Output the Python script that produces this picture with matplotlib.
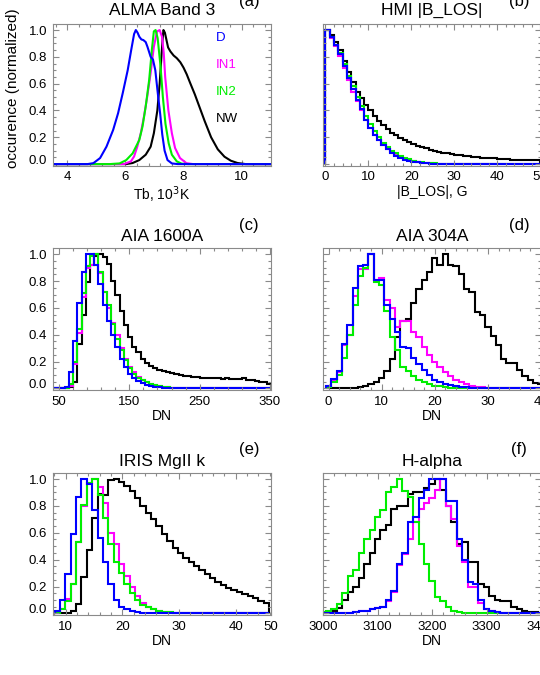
import numpy as np
import matplotlib
matplotlib.use('Agg')
import matplotlib.pyplot as plt
from matplotlib.ticker import AutoMinorLocator

plt.rcParams['font.family'] = ['Liberation Sans', 'DejaVu Sans']

names = ['D', 'IN1', 'IN2', 'NW']
colors = {'D': '#0000ff', 'IN1': '#ff00ff', 'IN2': '#00ee00', 'NW': '#000000'}
draw_order = ['NW', 'IN1', 'IN2', 'D']

# (a) ALMA Band 3, fine-binned curves: x in 10^3 K
alma_x = {
    'D': [3.5, 4.7, 4.9, 5.13, 5.35, 5.58, 5.75, 5.91, 6.08, 6.2, 6.3, 6.36, 6.42, 6.48, 6.55,
          6.62, 6.7, 6.76, 6.87, 6.95, 7.03, 7.13, 7.2, 7.27, 7.35, 7.45, 7.6, 7.8, 11.0],
    'IN1': [3.5, 5.95, 6.19, 6.3, 6.41, 6.53, 6.64, 6.75, 6.87, 6.98, 7.09, 7.18, 7.26, 7.32,
            7.37, 7.48, 7.6, 7.71, 7.88, 8.1, 8.33, 11.0],
    'IN2': [3.5, 5.46, 5.8, 6.03, 6.25, 6.48, 6.59, 6.7, 6.82, 6.91, 6.98, 7.04, 7.11, 7.21,
            7.29, 7.38, 7.49, 7.6, 7.77, 7.94, 8.17, 11.0],
    'NW': [3.5, 6.03, 6.25, 6.48, 6.7, 6.87, 6.98, 7.1, 7.18, 7.24, 7.28, 7.31, 7.36, 7.42, 7.47,
           7.55, 7.66, 7.77, 7.89, 8.0, 8.11, 8.22, 8.39, 8.56, 8.73, 8.95, 9.18, 9.41, 9.63,
           9.86, 10.14, 11.0],
}
alma_y = {
    'D': [0, 0, 0.007, 0.045, 0.13, 0.255, 0.38, 0.53, 0.70, 0.85, 0.97, 1.0, 0.98, 0.95, 0.93,
          0.925, 0.91, 0.875, 0.80, 0.78, 0.70, 0.50, 0.37, 0.22, 0.10, 0.03, 0.005, 0, 0],
    'IN1': [0, 0, 0.02, 0.057, 0.13, 0.23, 0.355, 0.5, 0.68, 0.875, 0.99, 1.0, 0.95, 0.83,
            0.65, 0.40, 0.23, 0.12, 0.045, 0.007, 0, 0],
    'IN2': [0, 0, 0.005, 0.03, 0.08, 0.18, 0.28, 0.43, 0.63, 0.85, 0.99, 1.0, 0.94, 0.73,
            0.5, 0.3, 0.155, 0.07, 0.02, 0.003, 0, 0],
    'NW': [0, 0, 0.008, 0.03, 0.07, 0.13, 0.23, 0.40, 0.6, 0.8, 0.93, 1.0, 0.98, 0.92, 0.87,
           0.84, 0.81, 0.79, 0.76, 0.72, 0.67, 0.61, 0.52, 0.42, 0.32, 0.2, 0.11, 0.055, 0.025,
           0.008, 0, 0],
}

# (b) HMI |B_LOS|, 1 G bins from 0 to 50
hmi_edges = np.arange(0, 51, 1)
hmi = {
    'NW': [1.0, 0.96, 0.91, 0.85, 0.77, 0.69, 0.61, 0.54, 0.49, 0.44,
           0.40, 0.36, 0.32, 0.29, 0.26, 0.235, 0.215, 0.195, 0.18, 0.165,
           0.15, 0.138, 0.127, 0.117, 0.108, 0.10, 0.093, 0.086, 0.08, 0.075,
           0.07, 0.066, 0.062, 0.058, 0.055, 0.052, 0.049, 0.046, 0.044, 0.042,
           0.04, 0.038, 0.036, 0.034, 0.032, 0.031, 0.03, 0.029, 0.028, 0.027],
    'D': [1.0, 0.95, 0.89, 0.82, 0.73, 0.64, 0.56, 0.48, 0.41, 0.33,
          0.27, 0.22, 0.18, 0.14, 0.11, 0.08, 0.06, 0.045, 0.033, 0.024,
          0.017, 0.012, 0.008, 0.005, 0.003, 0.002, 0.001, 0, 0, 0,
          0, 0, 0, 0, 0, 0, 0, 0, 0, 0,
          0, 0, 0, 0, 0, 0, 0, 0, 0, 0],
    'IN1': [1.0, 0.94, 0.88, 0.81, 0.72, 0.63, 0.54, 0.47, 0.40, 0.33,
            0.27, 0.22, 0.18, 0.145, 0.115, 0.09, 0.07, 0.05, 0.038, 0.028,
            0.02, 0.014, 0.01, 0.007, 0.005, 0.003, 0.002, 0.001, 0, 0,
            0, 0, 0, 0, 0, 0, 0, 0, 0, 0,
            0, 0, 0, 0, 0, 0, 0, 0, 0, 0],
    'IN2': [1.0, 0.95, 0.89, 0.83, 0.75, 0.66, 0.58, 0.50, 0.43, 0.36,
            0.30, 0.25, 0.20, 0.16, 0.13, 0.10, 0.08, 0.06, 0.045, 0.035,
            0.026, 0.019, 0.014, 0.01, 0.007, 0.005, 0.003, 0.002, 0.001, 0,
            0, 0, 0, 0, 0, 0, 0, 0, 0, 0,
            0, 0, 0, 0, 0, 0, 0, 0, 0, 0],
}

# (c) AIA 1600A, 6 DN bins from 40 to 352
a1600_edges = np.arange(40, 353, 6)
a1600 = {
    'NW': [0, 0, 0, 0, 0.01, 0.05, 0.33, 0.55, 0.79, 0.92,
           0.99, 1.0, 0.98, 0.93, 0.80, 0.70, 0.58, 0.47, 0.38, 0.31,
           0.27, 0.22, 0.19, 0.17, 0.15, 0.14, 0.13, 0.12, 0.115, 0.11,
           0.10, 0.095, 0.09, 0.085, 0.085, 0.08, 0.08, 0.075, 0.078, 0.075,
           0.072, 0.075, 0.07, 0.068, 0.07, 0.075, 0.065, 0.06, 0.055, 0.05,
           0.045, 0.03],
    'D': [0, 0, 0, 0.01, 0.12, 0.35, 0.64, 0.87, 1.0, 1.0,
          0.92, 0.78, 0.62, 0.50, 0.40, 0.31, 0.22, 0.16, 0.11, 0.08,
          0.055, 0.04, 0.028, 0.02, 0.013, 0.009, 0.006, 0.004, 0.002, 0.001,
          0, 0, 0, 0, 0, 0, 0, 0, 0, 0,
          0, 0, 0, 0, 0, 0, 0, 0, 0, 0,
          0, 0],
    'IN1': [0, 0, 0, 0, 0.02, 0.18, 0.41, 0.68, 0.90, 0.92,
            1.0, 0.86, 0.72, 0.60, 0.49, 0.40, 0.30, 0.22, 0.16, 0.12,
            0.085, 0.062, 0.046, 0.034, 0.025, 0.018, 0.012, 0.008, 0.005, 0.003,
            0.002, 0.001, 0, 0, 0, 0, 0, 0, 0, 0,
            0, 0, 0, 0, 0, 0, 0, 0, 0, 0,
            0, 0],
    'IN2': [0, 0, 0, 0, 0.03, 0.2, 0.44, 0.71, 0.91, 0.99,
            1.0, 0.87, 0.72, 0.62, 0.48, 0.37, 0.29, 0.21, 0.15, 0.11,
            0.08, 0.06, 0.045, 0.033, 0.024, 0.017, 0.012, 0.008, 0.005, 0.003,
            0.002, 0.001, 0, 0, 0, 0, 0, 0, 0, 0,
            0, 0, 0, 0, 0, 0, 0, 0, 0, 0,
            0, 0],
}

# (d) AIA 304A, 1 DN bins centred on 0..40
a304_edges = np.arange(-0.5, 41, 1)
a304 = {
    'NW': [0, 0, 0, 0.001, 0.002, 0.004, 0.008, 0.015, 0.03, 0.05,
           0.08, 0.13, 0.22, 0.38, 0.50, 0.52, 0.64, 0.74, 0.81, 0.87,
           0.97, 0.92, 1.0, 0.92, 0.91, 0.85, 0.74, 0.72, 0.57, 0.55,
           0.46, 0.39, 0.32, 0.22, 0.19, 0.19, 0.14, 0.09, 0.06, 0.04,
           0.03],
    'D': [0.02, 0.07, 0.13, 0.33, 0.47, 0.75, 0.91, 0.92, 1.0, 0.81,
          0.81, 0.62, 0.52, 0.42, 0.31, 0.30, 0.23, 0.18, 0.14, 0.10,
          0.06, 0.05, 0.035, 0.025, 0.017, 0.012, 0.008, 0.006, 0.004, 0.003,
          0.002, 0.001, 0.001, 0, 0, 0, 0, 0, 0, 0,
          0],
    'IN1': [0.02, 0.06, 0.12, 0.32, 0.40, 0.69, 0.89, 0.89, 1.0, 0.81,
            0.82, 0.66, 0.60, 0.46, 0.50, 0.50, 0.42, 0.38, 0.31, 0.25,
            0.20, 0.16, 0.12, 0.09, 0.065, 0.045, 0.03, 0.02, 0.012, 0.007,
            0.004, 0.002, 0.001, 0, 0, 0, 0, 0, 0, 0,
            0],
    'IN2': [0.01, 0.05, 0.10, 0.23, 0.40, 0.62, 0.84, 0.90, 1.0, 0.79,
            0.77, 0.58, 0.38, 0.29, 0.16, 0.13, 0.09, 0.06, 0.045, 0.03,
            0.02, 0.015, 0.01, 0.006, 0.004, 0.002, 0.001, 0, 0, 0,
            0, 0, 0, 0, 0, 0, 0, 0, 0, 0,
            0],
}

# (e) IRIS MgII k
iris_edges = 7.11 + 0.946 * np.arange(42)
iris = {
    'NW': [0, 0, 0, 0, 0.02, 0.07, 0.27, 0.47, 0.71, 0.89,
           0.88, 0.99, 1.0, 0.98, 0.95, 0.91, 0.86, 0.80, 0.75, 0.70,
           0.65, 0.59, 0.54, 0.49, 0.45, 0.41, 0.38, 0.35, 0.32, 0.29,
           0.26, 0.235, 0.21, 0.19, 0.175, 0.16, 0.145, 0.13, 0.115, 0.095,
           0.075],
    'D': [0, 0.02, 0.10, 0.29, 0.59, 0.87, 1.0, 0.96, 0.77, 0.56,
          0.38, 0.22, 0.10, 0.05, 0.03, 0.02, 0.01, 0.006, 0.004, 0.002,
          0.001, 0, 0, 0, 0, 0, 0, 0, 0, 0,
          0, 0, 0, 0, 0, 0, 0, 0, 0, 0,
          0],
    'IN1': [0, 0.005, 0.03, 0.11, 0.22, 0.53, 0.80, 0.97, 1.0, 0.94,
            0.82, 0.60, 0.52, 0.37, 0.28, 0.20, 0.13, 0.08, 0.05, 0.03,
            0.02, 0.012, 0.008, 0.005, 0.003, 0.002, 0.001, 0, 0, 0,
            0, 0, 0, 0, 0, 0, 0, 0, 0, 0,
            0],
    'IN2': [0, 0.005, 0.03, 0.09, 0.22, 0.53, 0.81, 0.97, 1.0, 0.88,
            0.71, 0.52, 0.38, 0.30, 0.22, 0.15, 0.10, 0.065, 0.045, 0.03,
            0.02, 0.012, 0.008, 0.005, 0.003, 0.002, 0.001, 0, 0, 0,
            0, 0, 0, 0, 0, 0, 0, 0, 0, 0,
            0],
}

# (f) H-alpha, 10 DN bins centred on 3000..3400
ha_edges = np.arange(2995, 3406, 10)
halpha = {
    'NW': [0.005, 0.01, 0.02, 0.04, 0.10, 0.16, 0.20, 0.26, 0.37, 0.45,
           0.55, 0.62, 0.66, 0.78, 0.80, 0.80, 0.89, 0.90, 0.90, 0.93,
           0.96, 1.0, 0.92, 0.80, 0.68, 0.52, 0.53, 0.38, 0.38, 0.22,
           0.20, 0.13, 0.10, 0.09, 0.09, 0.05, 0.03, 0.02, 0.012, 0.007,
           0.004],
    'D': [0, 0, 0, 0, 0, 0.005, 0.01, 0.015, 0.02, 0.03,
          0.04, 0.05, 0.10, 0.17, 0.37, 0.45, 0.68, 0.72, 0.86, 0.92,
          1.0, 1.0, 1.0, 0.84, 0.84, 0.55, 0.40, 0.23, 0.22, 0.10,
          0.03, 0.02, 0.01, 0.005, 0.003, 0.002, 0.001, 0, 0, 0,
          0],
    'IN1': [0, 0, 0, 0, 0, 0.005, 0.01, 0.015, 0.02, 0.03,
            0.04, 0.05, 0.09, 0.16, 0.36, 0.44, 0.55, 0.68, 0.78, 0.82,
            0.86, 0.92, 1.0, 0.80, 0.70, 0.50, 0.38, 0.20, 0.20, 0.08,
            0.03, 0.015, 0.008, 0.004, 0.002, 0.001, 0, 0, 0, 0,
            0],
    'IN2': [0.01, 0.015, 0.03, 0.07, 0.15, 0.28, 0.32, 0.45, 0.55, 0.62,
            0.72, 0.77, 0.90, 0.94, 1.0, 0.91, 0.87, 0.68, 0.52, 0.37,
            0.24, 0.12, 0.09, 0.05, 0.02, 0.01, 0.005, 0.003, 0.002, 0.001,
            0, 0, 0, 0, 0, 0, 0, 0, 0, 0,
            0],
}

W, H = 540, 675
fig = plt.figure(figsize=(W / 100, H / 100), dpi=100)

cols = [(52.7, 270.7), (323.3, 541.0)]
rows = [(24.0, 165.7), (248.3, 390.0), (473.0, 615.0)]
title_off = [0.093, 0.082, 0.080]

panels = [
    # title, label, xlabel, xlim, xticks, xticklabels, data
    ('ALMA Band 3', '(a)', 'Tb, 10$^3$K', (3.5, 11.0), [4, 6, 8, 10], None, None),
    ('HMI |B_LOS|', '(b)', '|B_LOS|, G', (-0.5, 50.2), [0, 10, 20, 30, 40, 50], None, (hmi_edges, hmi)),
    ('AIA 1600A', '(c)', 'DN', (41, 351), [50, 150, 250, 350], None, (a1600_edges, a1600)),
    ('AIA 304A', '(d)', 'DN', (-1, 40), [0, 10, 20, 30, 40], None, (a304_edges, a304)),
    ('IRIS MgII k', '(e)', 'DN', (7.7, 46.2), [10, 20, 30, 40, 46.2],
     ['10', '20', '30', '40', '50'], (iris_edges, iris)),
    ('H-alpha', '(f)', 'DN', (3000, 3400), [3000, 3100, 3200, 3300, 3400], None, (ha_edges, halpha)),
]

frame = '#8a8a8a'
for k, (title, tag, xlab, xlim, xt, xtl, data) in enumerate(panels):
    r, c = divmod(k, 2)
    left, right = cols[c]
    top, bottom = rows[r]
    ax = fig.add_axes([left / W, 1 - bottom / H, (right - left) / W, (bottom - top) / H])

    if data is None:
        for n in draw_order:
            ax.plot(alma_x[n], alma_y[n], color=colors[n], lw=1.5)
    else:
        edges, vals = data
        for n in draw_order:
            ax.stairs(vals[n], edges, color=colors[n], lw=1.5, baseline=0)

    ax.set_xlim(*xlim)
    ax.set_ylim(-0.012, 1.045)
    ax.set_xticks(xt)
    if xtl is not None:
        ax.set_xticklabels(xtl)
    ax.set_yticks([0, 0.2, 0.4, 0.6, 0.8, 1.0])
    ax.set_yticklabels(['0.0', '0.2', '0.4', '0.6', '0.8', '1.0'])
    ax.xaxis.set_minor_locator(AutoMinorLocator(5))
    ax.yaxis.set_minor_locator(AutoMinorLocator(4))
    ax.tick_params(which='both', direction='in', top=True, right=True, color=frame,
                   width=0.8, labelsize=9.5, pad=4)
    ax.tick_params(which='major', length=4.5)
    ax.tick_params(which='minor', length=2.2)
    if c == 1:
        ax.tick_params(labelleft=False)
    else:
        ax.get_yticklabels()[0].set_va('baseline')
    for s in ax.spines.values():
        s.set_color(frame)
        s.set_linewidth(0.8)

    ax.set_xlabel(xlab, fontsize=10, labelpad=1)
    ax.text(0.5, 1 + title_off[r], title, transform=ax.transAxes, ha='center', va='center',
            fontsize=12.5)
    ax.text(0.9, 1.162, tag, transform=ax.transAxes, ha='center', va='center', fontsize=12)

    if k == 0:
        ax.set_ylabel('occurence (normalized)', fontsize=11)
        ax.yaxis.set_label_coords(-0.15, 0.55)
        for i, n in enumerate(names):
            ax.text(0.75, 0.899 - 0.19 * i, n, transform=ax.transAxes, color=colors[n],
                    ha='left', va='center', fontsize=9.5)

fig.savefig('out.png', dpi=100)
